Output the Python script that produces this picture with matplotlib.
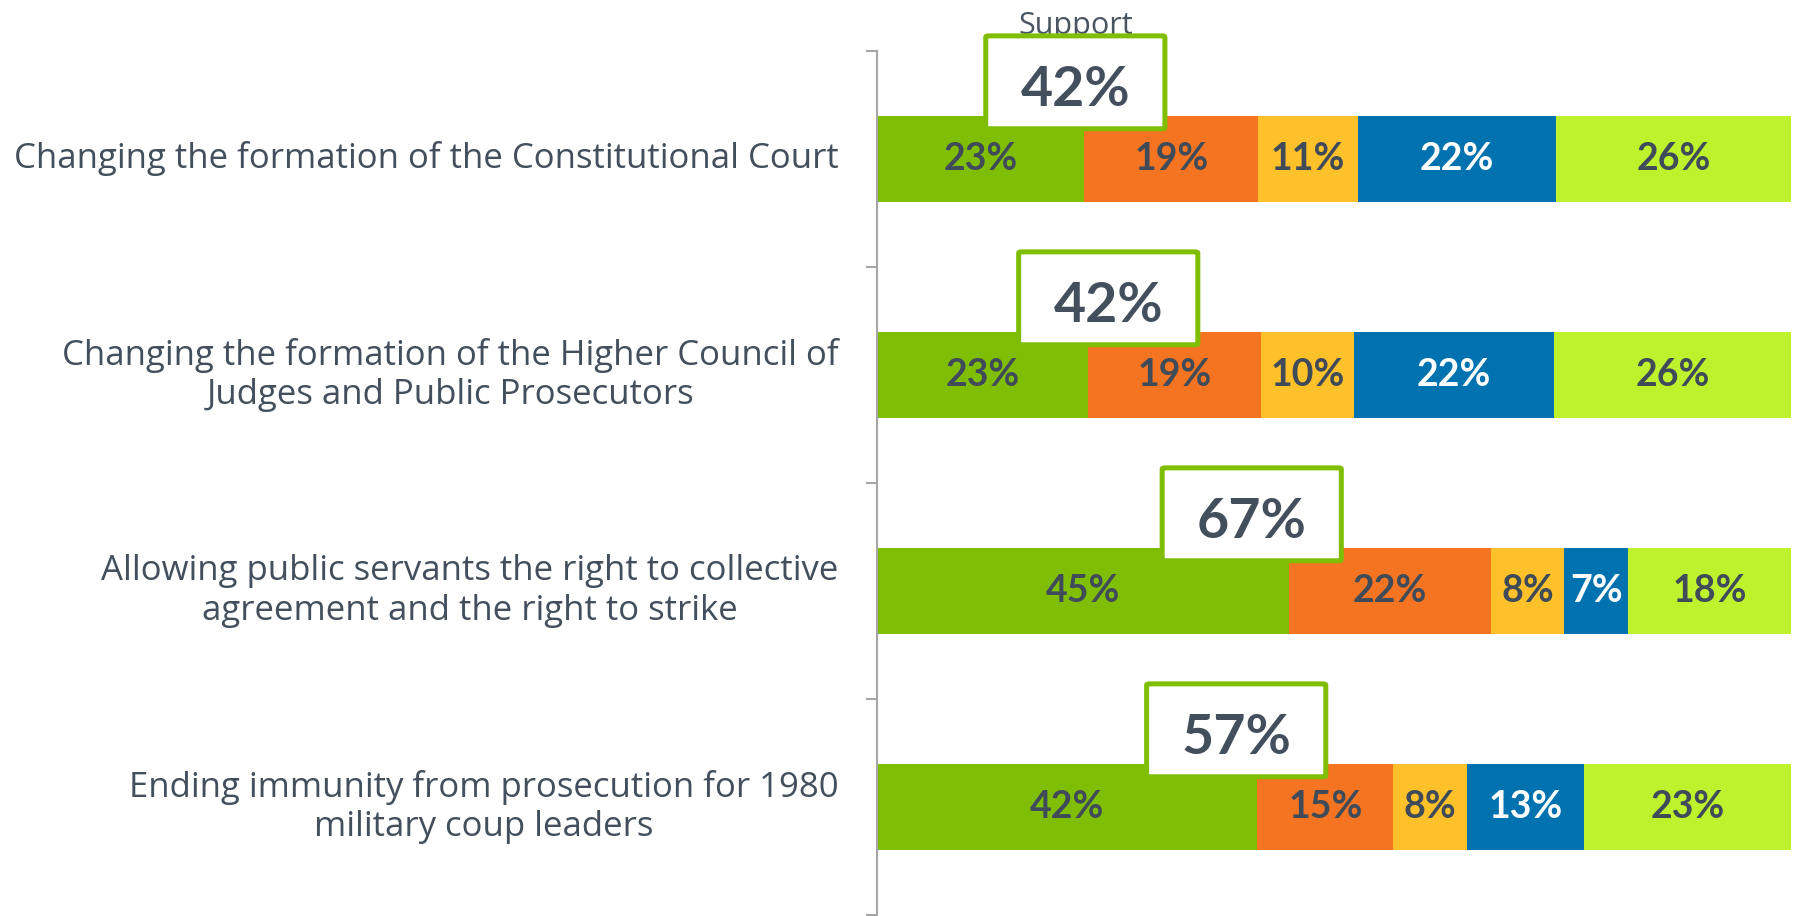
import matplotlib.pyplot as plt
from matplotlib.patches import FancyBboxPatch

# statements (top to bottom)
statements = [
    "Changing the formation of the Constitutional Court",
    "Changing the formation of the Higher Council of\nJudges and Public Prosecutors",
    "Allowing public servants the right to collective\nagreement and the right to strike",
    "Ending immunity from prosecution for 1980\nmilitary coup leaders",
]

# segment shares (%), left to right
seg_1 = [22.7, 23.1, 45.1, 41.6]
seg_2 = [19.0, 18.9, 22.1, 14.9]
seg_3 = [10.9, 10.2, 8.0, 8.0]
seg_4 = [21.7, 21.9, 7.0, 12.9]
seg_5 = [25.7, 25.9, 17.8, 22.6]

# printed labels
lab_1 = ["23%", "23%", "45%", "42%"]
lab_2 = ["19%", "19%", "22%", "15%"]
lab_3 = ["11%", "10%", "8%", "8%"]
lab_4 = ["22%", "22%", "7%", "13%"]
lab_5 = ["26%", "26%", "18%", "23%"]
support_total = ["42%", "42%", "67%", "57%"]

segments = [seg_1, seg_2, seg_3, seg_4, seg_5]
labels = [lab_1, lab_2, lab_3, lab_4, lab_5]
colors = ["#80be05", "#f47422", "#ffc12a", "#0072b0", "#bdf22d"]
label_colors = ["#3f4b58", "#3f4b58", "#3f4b58", "white", "#3f4b58"]

# where the support callout boxes sit (x centre, in % units)
box_centers = [21.7, 25.3, 41.0, 39.3]

text_col = "#434f5c"

fig = plt.figure(figsize=(17.94, 9.16), dpi=100)
ax = fig.add_axes([877 / 1794, 1 / 916, 914 / 1794, 864 / 916])

ypos = list(range(len(statements)))
left = [0.0] * len(statements)
for vals, labs, col, lcol in zip(segments, labels, colors, label_colors):
    ax.barh(ypos, vals, left=left, height=0.4, color=col, edgecolor="none")
    for i in ypos:
        ax.text(left[i] + vals[i] / 2, i, labs[i], ha="center", va="center",
                fontsize=27, fontweight="bold", family="Lato", color=lcol)
    left = [l + v for l, v in zip(left, vals)]

# support callouts
box_w = 19.6
box_h = 0.43
for i in ypos:
    x0 = box_centers[i] - box_w / 2
    y_bottom = i - 0.2 + 0.06
    box = FancyBboxPatch((x0, y_bottom - box_h), box_w, box_h,
                         boxstyle="round,pad=0,rounding_size=0.3",
                         facecolor="white", edgecolor="#80be05", linewidth=3.6,
                         mutation_aspect=0.02, zorder=5, clip_on=False)
    ax.add_patch(box)
    ax.text(box_centers[i], y_bottom - box_h / 2 + 0.035, support_total[i],
            ha="center", va="center", fontsize=40, fontweight="bold",
            family="Lato", color=text_col, zorder=6)

# category labels
for i in ypos:
    ax.text(-4.2, i, statements[i], ha="right", va="center", multialignment="center",
            fontsize=25, family="Open Sans", color=text_col, linespacing=1.2,
            clip_on=False)

ax.text(box_centers[0], -0.5 - 17 / 216, "Support", ha="center", va="baseline",
        fontsize=22, family="Open Sans", color="#4a5561", clip_on=False)

ax.set_xlim(0, 100)
ax.set_ylim(3.5, -0.5)
ax.set_yticks([-0.5, 0.5, 1.5, 2.5, 3.5])
ax.set_yticklabels([])
ax.set_xticks([])
ax.tick_params(axis="y", length=8, width=1.5, color="#a6a6a6", direction="out")
for s in ["top", "right", "bottom"]:
    ax.spines[s].set_visible(False)
ax.spines["left"].set_color("#a6a6a6")
ax.spines["left"].set_linewidth(1.5)
ax.patch.set_alpha(0)

fig.savefig("out.png", dpi=100)
